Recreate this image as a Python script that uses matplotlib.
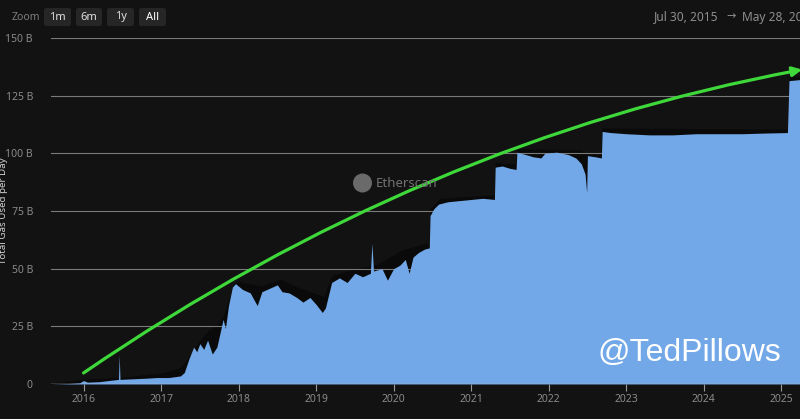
import numpy as np
import matplotlib
matplotlib.use("Agg")
import matplotlib.pyplot as plt
from matplotlib.patches import FancyArrowPatch, Ellipse, FancyBboxPatch
from matplotlib.path import Path

# Daily gas used (billions) at decimal-year positions
gas_years = [2015.58, 2015.80, 2015.95, 2016.00, 2016.05, 2016.20, 2016.40, 2016.45,
             2016.46, 2016.47, 2016.60, 2016.80, 2016.95, 2017.10, 2017.25, 2017.30,
             2017.36, 2017.42, 2017.46, 2017.50, 2017.55, 2017.60, 2017.66, 2017.72,
             2017.76, 2017.80, 2017.83, 2017.87, 2017.92, 2017.96, 2018.05, 2018.15,
             2018.24, 2018.30, 2018.40, 2018.50, 2018.56, 2018.65, 2018.75, 2018.83,
             2018.92, 2019.00, 2019.08, 2019.12, 2019.20, 2019.30, 2019.40, 2019.50,
             2019.60, 2019.70, 2019.72, 2019.74, 2019.85, 2019.92, 2020.00, 2020.08,
             2020.15, 2020.20, 2020.25, 2020.32, 2020.40, 2020.46, 2020.47, 2020.52,
             2020.58, 2020.70, 2020.85, 2021.00, 2021.15, 2021.30, 2021.31, 2021.40,
             2021.50, 2021.58, 2021.59, 2021.70, 2021.80, 2021.90, 2021.95, 2022.10,
             2022.25, 2022.35, 2022.42, 2022.47, 2022.49, 2022.50, 2022.60, 2022.68,
             2022.69, 2022.80, 2023.00, 2023.30, 2023.60, 2023.90, 2024.20, 2024.50,
             2024.80, 2025.08, 2025.10, 2025.25, 2025.41]
gas_used = [0.0, 0.2, 0.5, 1.5, 0.8, 1.0, 1.8, 2.0,
            12.6, 2.0, 2.2, 2.5, 2.8, 2.8, 3.5, 5.0,
            11.0, 16.0, 14.0, 17.5, 15.0, 19.0, 13.0, 16.0,
            22.0, 28.0, 24.0, 34.0, 42.0, 43.5, 41.0, 39.5,
            34.0, 40.0, 41.5, 43.0, 40.0, 39.5, 37.5, 35.5,
            37.5, 34.5, 31.0, 33.0, 44.0, 46.0, 44.0, 48.0,
            46.5, 48.0, 61.0, 49.0, 50.0, 45.0, 50.0, 51.5,
            54.0, 48.0, 55.0, 57.0, 58.5, 59.0, 73.0, 76.0,
            78.0, 79.0, 79.5, 80.0, 80.5, 80.0, 94.0, 94.5,
            93.5, 93.0, 100.5, 99.5, 98.5, 98.0, 100.0, 100.5,
            99.5, 98.0, 95.5, 91.0, 83.0, 99.0, 98.5, 98.0,
            109.5, 109.0, 108.5, 108.0, 108.0, 108.5, 108.5, 108.5,
            108.8, 109.0, 131.5, 132.0, 132.0]

# Dark upper envelope (daily highs) sitting just above the blue area
peak_years = [2015.58, 2016.00, 2016.50, 2017.00, 2017.25, 2017.38, 2017.47, 2017.60,
              2017.72, 2017.80, 2017.89, 2017.93, 2018.00, 2018.30, 2018.54, 2018.80,
              2019.10, 2019.20, 2019.50, 2019.80, 2020.10, 2020.40, 2020.46, 2020.47,
              2020.60, 2021.30, 2021.31, 2021.58, 2021.59, 2022.40, 2022.49, 2022.68,
              2022.69, 2025.08, 2025.10, 2025.41]
peak_used = [0.5, 2.0, 3.0, 4.8, 7.0, 13.0, 17.5, 23.0,
             25.5, 29.5, 38.0, 43.5, 44.5, 42.5, 45.5, 41.5,
             38.0, 47.0, 50.0, 52.0, 58.0, 61.0, 61.0, 76.0,
             80.5, 82.0, 96.0, 95.5, 102.0, 101.5, 100.0, 100.0,
             111.0, 110.5, 133.5, 133.5]

year_ticks = [2016, 2017, 2018, 2019, 2020, 2021, 2022, 2023, 2024, 2025]
y_ticks = [0, 25, 50, 75, 100, 125, 150]
y_labels = ['0', '25 B', '50 B', '75 B', '100 B', '125 B', '150 B']

# trend arrow: start, control, end (year, billions)
arrow_start = (2016.0, 4.8)
arrow_ctrl = (2020.375, 105.6)
arrow_end = (2025.27, 136.3)

BG = '#121212'
plt.rcParams['font.family'] = ['Noto Sans', 'DejaVu Sans']

fig = plt.figure(figsize=(8, 4.19), dpi=100, facecolor=BG)
ax = fig.add_axes([51 / 800, 35 / 419, 762 / 800, 346 / 419])
ax.set_facecolor(BG)

ax.fill_between(peak_years, 0, peak_used, color='#0a0a0a', lw=0, zorder=0.3)
ax.fill_between(gas_years, 0, gas_used, color='#72a8e7', lw=0, zorder=1)

ax.set_xlim(2015.58, 2025.41)
ax.set_ylim(0, 150)
ax.set_axisbelow(True)
ax.grid(axis='y', color='#7a7a7a', lw=0.8)
ax.grid(axis='x', visible=False)
ax.axhline(0, color='#bdbdbd', lw=1, zorder=3)

for s in ax.spines.values():
    s.set_visible(False)

ax.set_yticks(y_ticks)
ax.set_yticklabels(y_labels)
ax.set_xticks(year_ticks)
ax.set_xticklabels([str(y) for y in year_ticks])
ax.tick_params(axis='y', length=0, pad=13, labelsize=7.5, labelcolor='#8a8a8a')
ax.tick_params(axis='x', length=5, width=0.8, color='#9a9a9a', pad=2,
               labelsize=7.5, labelcolor='#8a8a8a')

# green trend arrow
path = Path([arrow_start, arrow_ctrl, arrow_end],
            [Path.MOVETO, Path.CURVE3, Path.CURVE3])
arrow = FancyArrowPatch(path=path, arrowstyle='-|>', mutation_scale=14,
                        color='#3ed83a', lw=2.3, transform=ax.transData,
                        zorder=5, clip_on=False)
ax.add_patch(arrow)

# y axis title, cut by the left edge
fig.text(3.5 / 800, 1 - 211 / 419, 'Total Gas Used per Day', rotation=90,
         ha='center', va='center', fontsize=7, fontweight='bold', color='#cfcfcf')

# zoom buttons
fig.text(12 / 800, 1 - 17 / 419, 'Zoom', fontsize=7.5, color='#7e7e7e', va='center')
buttons = [('1m', 44, 71), ('6m', 76, 102), ('1y', 107, 134), ('All', 139, 166)]
for label, x0, x1 in buttons:
    box = FancyBboxPatch((x0 / 800, 1 - 26 / 419), (x1 - x0) / 800, 18 / 419,
                         boxstyle='round,pad=0,rounding_size=0.004',
                         transform=fig.transFigure, facecolor='#262626',
                         edgecolor='none')
    fig.add_artist(box)
    fig.text((x0 + x1) / 2 / 800, 1 - 17 / 419, label, ha='center', va='center',
             fontsize=8, fontweight='bold',
             color='#ffffff' if label == 'All' else '#e0e0e0')

# date range, cut at the right edge like the screenshot
fig.text(654 / 800, 1 - 17 / 419, 'Jul 30, 2015', fontsize=8.6, color='#8e8e8e', va='center')
fig.text(726 / 800, 1 - 17 / 419, '\u2192', fontsize=8, color='#8e8e8e', va='center')
fig.text(742 / 800, 1 - 17 / 419, 'May 28, 2025', fontsize=8.6, color='#8e8e8e', va='center')

# Etherscan watermark
fig.add_artist(Ellipse((362.5 / 800, 1 - 183 / 419), 19 / 800, 19 / 419,
                       transform=fig.transFigure, facecolor='#6a6a6a', edgecolor='none'))
fig.text(376 / 800, 1 - 183 / 419, 'Etherscan', fontsize=9.5, color='#727272',
         va='center')

fig.text(597 / 800, 1 - 353 / 419, '@TedPillows', fontsize=23, color='white',
         va='center', family='Liberation Sans')

fig.savefig('out.png', dpi=100, facecolor=BG)
